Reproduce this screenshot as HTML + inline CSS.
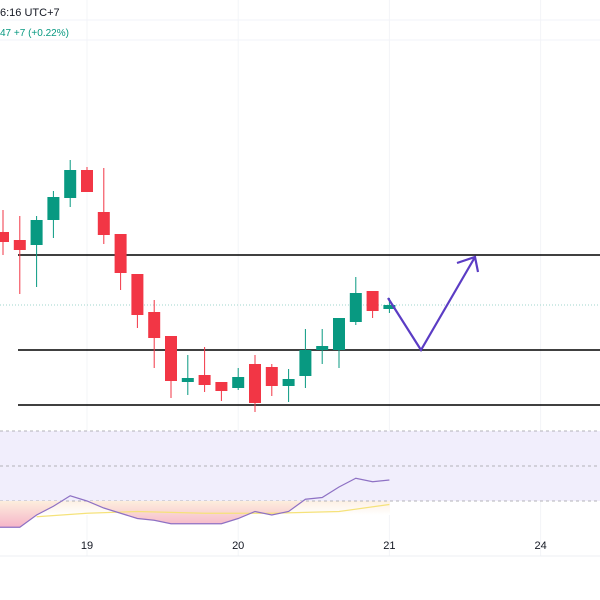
<!DOCTYPE html>
<html><head><meta charset="utf-8">
<style>
html,body{margin:0;padding:0;background:#fff;width:600px;height:600px;overflow:hidden;font-family:"Liberation Sans",sans-serif;}
svg{display:block}
</style></head>
<body>
<svg id="chart" width="600" height="600" viewBox="0 0 600 600" xmlns="http://www.w3.org/2000/svg">
  <defs>
    <linearGradient id="pinkGrad" x1="0" y1="501" x2="0" y2="528" gradientUnits="userSpaceOnUse">
      <stop offset="0" stop-color="#fdeedd"/>
      <stop offset="1" stop-color="#f5b3c8"/>
    </linearGradient>
    <linearGradient id="peachGrad" x1="0" y1="0" x2="0" y2="1">
      <stop offset="0" stop-color="#fdf0e4"/>
      <stop offset="1" stop-color="#ffffff"/>
    </linearGradient>
    <clipPath id="below30"><rect x="0" y="501" width="600" height="40"/></clipPath>
  </defs>
  <line x1="0" y1="20" x2="600" y2="20" stroke="#f0f3fa"/>
  <line x1="0" y1="40" x2="600" y2="40" stroke="#f0f3fa"/>
  <text x="0" y="16" font-size="11" fill="#131722">6:16 UTC+7</text>
  <text x="0" y="36" font-size="10" fill="#089981">47  +7 (+0.22%)</text>
  <g id="grid"></g>
  <line x1="0" y1="305" x2="600" y2="305" stroke="#9fd6cc" stroke-width="1" stroke-dasharray="1 2"/>
  <g id="levels"></g>
  <g id="candles"></g>
  <polyline points="388,298 421,350 475,257" fill="none" stroke="#5b3cc4" stroke-width="2.2"/>
  <polyline points="457,263 475,257 478,272" fill="none" stroke="#5b3cc4" stroke-width="2.2"/>
  <rect x="0" y="431" width="600" height="70" fill="#f1eefc"/>
  <rect x="0" y="501" width="390" height="14" fill="url(#peachGrad)"/>
  <line x1="0" y1="431" x2="600" y2="431" stroke="#b3b3b8" stroke-dasharray="3 3"/>
  <line x1="0" y1="466" x2="600" y2="466" stroke="#b3b3b8" stroke-dasharray="3 3"/>
  <line x1="0" y1="501" x2="600" y2="501" stroke="#b3b3b8" stroke-dasharray="3 3"/>
  <g id="rsi"></g>
  <line x1="0" y1="556" x2="600" y2="556" stroke="#eceff3"/>
  <g id="xaxis"></g>
</svg>
<script>
// candle data (price units)
const opens  = [368,360,355,380,402,430,388,366,326,288,264,218,225,218,212,236,233,214,224,250,250,278,309,291];
const closes = [358,350,380,403,430,408,365,327,285,262,219,222,215,209,223,197,214,221,250,254,282,307,289,295];
const highs  = [390,384,384,409,440,433,432,346,326,300,264,245,253,218,232,245,236,231,271,271,282,323,309,302];
const lows   = [345,306,313,362,393,420,356,310,272,232,202,205,208,199,210,188,204,198,212,236,232,275,282,287];
const levels = [345,250,195];
const rsiVals = [15,15,22,27,33,30,26,23,20,19,17,17,17,17,20,24,22,24,31,32,38,43,41,42];
const maIdx = [2,5,8,12,16,20,23];
const maVals = [21,23,24,23,23,24,28];
const xLabels = ["19","20","21","24"];
const xLabelSlots = [5,14,23,32];

const NS="http://www.w3.org/2000/svg";
const x0=3, step=16.8;
const xs=i=>x0+i*step;
const ys=p=>600-p;
const ry=v=>466-(v-50)*1.75;
function mk(tag,attrs,parent){const e=document.createElementNS(NS,tag);for(const k in attrs)e.setAttribute(k,attrs[k]);parent.appendChild(e);return e;}

const grid=document.getElementById('grid');
xLabelSlots.forEach((s,i)=>{
  const l=mk('line',{x1:xs(s),x2:xs(s),y1:0,y2:556,stroke:'#f3f4f7'},grid);
  
  
});

const lv=document.getElementById('levels');
levels.forEach(p=>{
  const l=mk('line',{x1:18,x2:600,y1:ys(p),y2:ys(p),stroke:'#000','stroke-width':1.4},lv);
  
  
});

const cg=document.getElementById('candles');
opens.forEach((o,i)=>{
  const c=closes[i], up=c>=o, col=up?'#089981':'#f23645';
  const g=mk('g',{},cg);
  
  
  mk('line',{x1:xs(i),x2:xs(i),y1:ys(highs[i]),y2:ys(lows[i]),stroke:col,'stroke-width':1},g);
  const top=ys(Math.max(o,c)), h=Math.max(2,Math.abs(o-c));
  mk('rect',{x:xs(i)-6,y:top,width:12,height:h,fill:col},g);
});

const rg=document.getElementById('rsi');
const pts=rsiVals.map((v,i)=>[xs(i),ry(v)]);
pts.unshift([0,ry(rsiVals[0])]);
const fillPts=[[0,ry(30)],...pts,[pts[pts.length-1][0],ry(30)]];
const f=mk('polygon',{points:fillPts.map(p=>p.join(',')).join(' '),fill:'url(#pinkGrad)','clip-path':'url(#below30)'},rg);


const ma=mk('polyline',{points:maIdx.map((k,j)=>xs(k)+','+ry(maVals[j])).join(' '),fill:'none',stroke:'#f5e27a','stroke-width':1.2},rg);


const rl=mk('polyline',{points:pts.map(p=>p.join(',')).join(' '),fill:'none',stroke:'#8e71c4','stroke-width':1.2},rg);



const xa=document.getElementById('xaxis');
xLabels.forEach((t,i)=>{
  const e=mk('text',{x:xs(xLabelSlots[i]),y:549,'text-anchor':'middle','font-size':11,fill:'#131722'},xa);
  e.textContent=t;
  
  
});
</script>
</body></html>
